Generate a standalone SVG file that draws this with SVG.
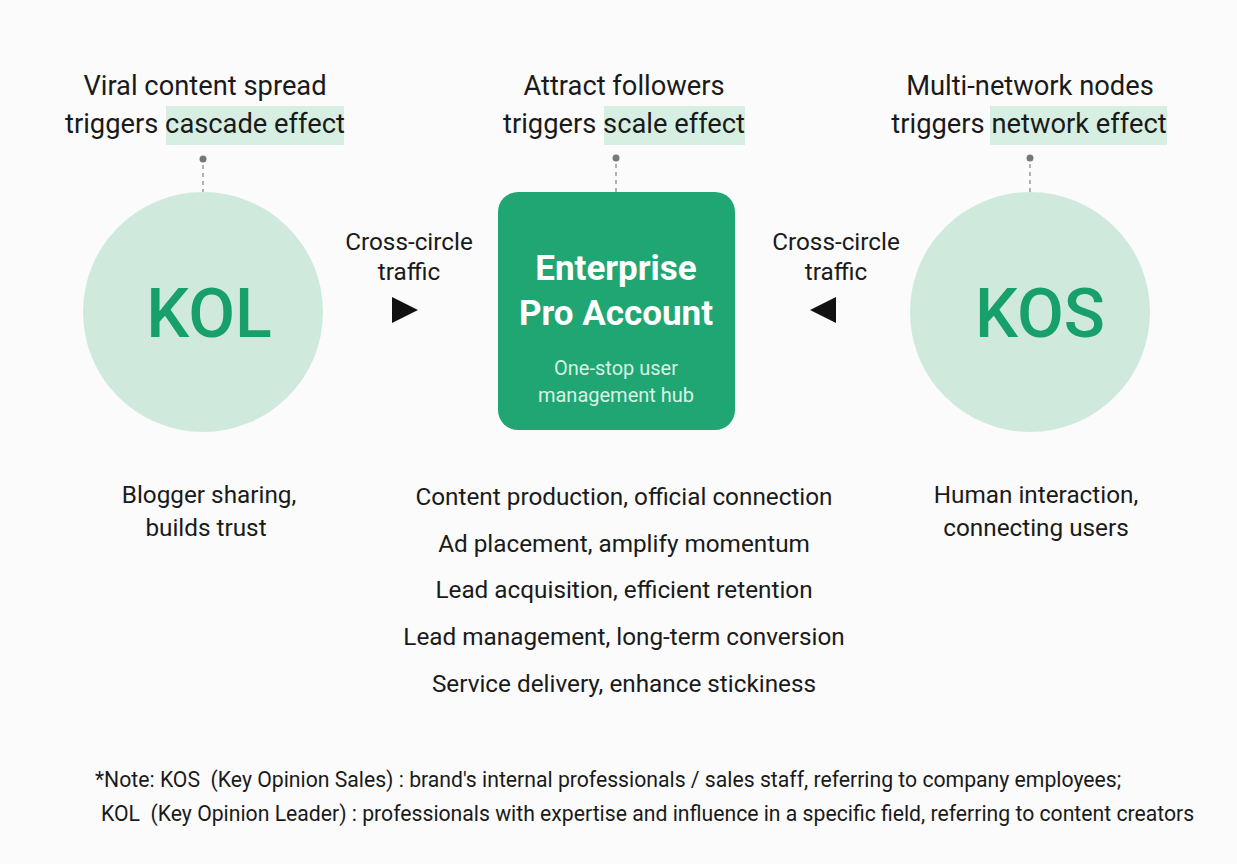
<svg xmlns="http://www.w3.org/2000/svg" width="1237" height="864" viewBox="0 0 1237 864">
<style>
text{font-family:Roboto,"Liberation Sans",sans-serif;fill:#1a1a1a}
.h{font-size:27.3px;text-anchor:middle}
.hl{fill:#d7eee2}
.c{fill:#cfeadd}
.big{font-size:68px;fill:#17a06a;text-anchor:middle;font-weight:500}
.t{font-size:24.3px;text-anchor:middle}
.dash{stroke:#888;stroke-width:1.3;stroke-dasharray:4 4;fill:none}
.dot{fill:#777}
.n{font-size:21.2px}
</style>
<rect width="1237" height="864" fill="#fbfbfb"/>
<g id="labels-top">
<rect class="hl" x="166" y="106" width="178" height="39"/>
<rect class="hl" x="604" y="106" width="141" height="39"/>
<rect class="hl" x="990" y="106" width="177" height="39"/>
<text class="h" x="205" y="95">Viral content spread</text>
<text class="h" x="205" y="133">triggers cascade effect</text>
<text class="h" x="624" y="95">Attract followers</text>
<text class="h" x="624" y="133">triggers scale effect</text>
<text class="h" x="1030" y="95">Multi-network nodes</text>
<text class="h" x="1029" y="133">triggers network effect</text>
</g>
<g id="connectors">
<circle class="dot" cx="203" cy="159" r="3.5"/><path class="dash" d="M203 165V213"/>
<circle class="dot" cx="616" cy="158" r="3.5"/><path class="dash" d="M616 164V213"/>
<circle class="dot" cx="1030" cy="158" r="3.5"/><path class="dash" d="M1030 164V213"/>
<path d="M392 297L418 310L392 323Z" fill="#111"/>
<path d="M836 297L810 310L836 323Z" fill="#111"/>
</g>
<g id="kol"><circle class="c" cx="203" cy="312" r="120"/><text class="big" x="209" y="337">KOL</text></g>
<g id="kos"><circle class="c" cx="1030" cy="312" r="120"/><text class="big" x="1040" y="337">KOS</text></g>
<g id="hub">
<rect x="498" y="192" width="237" height="238" rx="20" fill="#1fa673"/>
<text x="616" y="280" style="font-size:35px;font-weight:bold;fill:#fff;text-anchor:middle">Enterprise</text>
<text x="616" y="325" style="font-size:35px;font-weight:bold;fill:#fff;text-anchor:middle">Pro Account</text>
<text x="616" y="375" style="font-size:20px;fill:#d8f2e5;text-anchor:middle">One-stop user</text>
<text x="616" y="402" style="font-size:20px;fill:#d8f2e5;text-anchor:middle">management hub</text>
</g>
<g id="traffic">
<text class="t" x="409" y="250">Cross-circle</text><text class="t" x="409" y="280">traffic</text>
<text class="t" x="836" y="250">Cross-circle</text><text class="t" x="836" y="280">traffic</text>
</g>
<g id="descs">
<text class="t" x="209" y="503">Blogger sharing,</text><text class="t" x="206" y="536">builds trust</text>
<text class="t" x="1036" y="503">Human interaction,</text><text class="t" x="1036" y="536">connecting users</text>
<text class="t" x="624" y="505">Content production, official connection</text>
<text class="t" x="624" y="552">Ad placement, amplify momentum</text>
<text class="t" x="624" y="598">Lead acquisition, efficient retention</text>
<text class="t" x="624" y="645">Lead management, long-term conversion</text>
<text class="t" x="624" y="692">Service delivery, enhance stickiness</text>
</g>
<g id="note">
<text class="n" x="95" y="787" xml:space="preserve">*Note: KOS  (Key Opinion Sales) : brand's internal professionals / sales staff, referring to company employees;</text>
<text class="n" x="101" y="821" xml:space="preserve">KOL  (Key Opinion Leader) : professionals with expertise and influence in a specific field, referring to content creators</text>
</g>
</svg>
